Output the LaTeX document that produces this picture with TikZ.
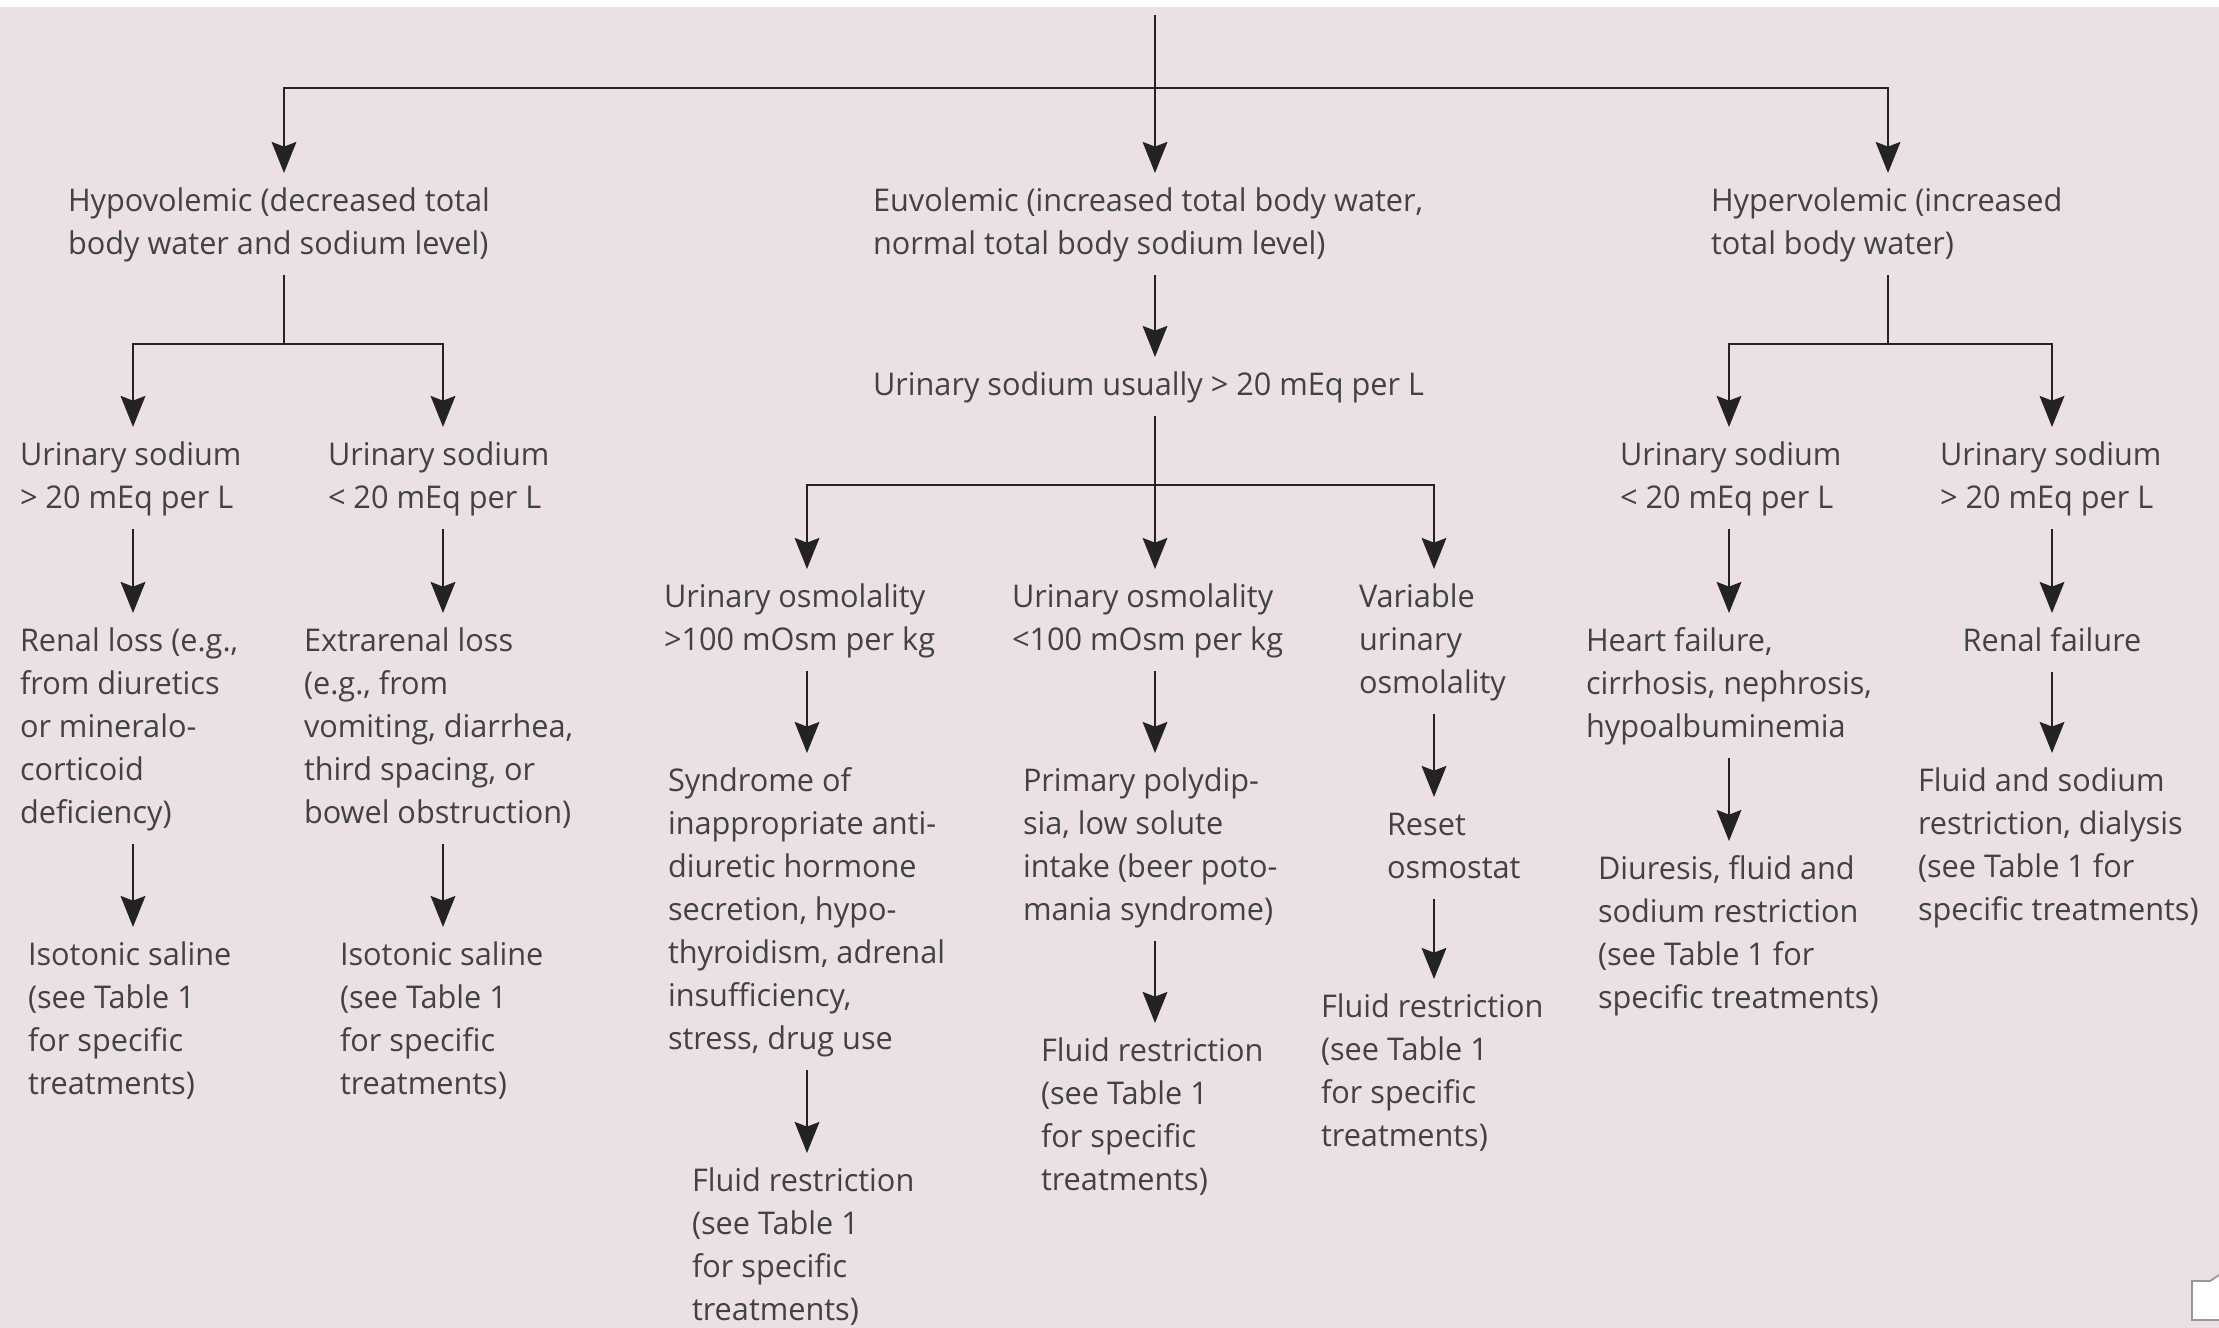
\documentclass[tikz,border=0pt]{standalone}
\usepackage{fontspec}
\setmainfont{Open Sans}[FakeStretch=0.98]
\usetikzlibrary{arrows.meta}
\definecolor{bgpink}{RGB}{235,224,228}
\definecolor{txtgray}{RGB}{66,66,66}
\definecolor{lngray}{RGB}{35,35,35}
\newcommand{\topstr}{\rule{0pt}{0.385cm}}
\newcommand{\botstr}{\rule[-0.205cm]{0pt}{0.205cm}}
\begin{document}
\begin{tikzpicture}[x=0.01cm,y=-0.01cm,
  lbl/.style={anchor=north west, align=left, inner sep=0pt, outer sep=0pt, text=txtgray,
              font=\fontsize{8.9pt}{12.235pt}\selectfont},
  con/.style={draw=lngray, line width=0.75pt},
  arr/.style={con, -{Stealth[length=8.8pt,width=7pt,inset=1.3pt]}}]
\fill[bgpink] (0,0) rectangle (2219,1328);
\fill[white] (0,0) rectangle (2219,7);
\useasboundingbox (0,0) rectangle (2219,1328);

% column / junction coordinates
\coordinate (top) at (1155,15);
\coordinate (bar) at (1155,88);
\coordinate (cH) at (284,0);
\coordinate (cR) at (1888,0);
\coordinate (c1) at (133,0);
\coordinate (c2) at (443,0);
\coordinate (c3) at (807,0);
\coordinate (c4) at (1434,0);
\coordinate (c5) at (1729,0);
\coordinate (c6) at (2052,0);
\coordinate (j1) at (284,344);
\coordinate (j2) at (1155,485);
\coordinate (j3) at (1888,344);

% level 1
\node[lbl] (hypo) at (68,173) {\topstr Hypovolemic (decreased total\\body water and sodium level)\botstr};
\node[lbl] (euvo) at (873,173) {\topstr Euvolemic (increased total body water,\\normal total body sodium level)\botstr};
\node[lbl] (hyper) at (1711,173) {\topstr Hypervolemic (increased\\total body water)\botstr};

% euvolemic
\node[lbl] (usual) at (873,357) {\topstr Urinary sodium usually > 20 mEq per L\botstr};
\node[lbl] (osmA) at (664,569) {\topstr Urinary osmolality\\>100 mOsm per kg\botstr};
\node[lbl] (osmB) at (1012,569) {\topstr Urinary osmolality\\<100 mOsm per kg\botstr};
\node[lbl] (var) at (1359,569) {\topstr Variable\\urinary\\osmolality\botstr};
\node[lbl] (syn) at (668,753) {\topstr Syndrome of\\inappropriate anti-\\diuretic hormone\\secretion, hypo-\\thyroidism, adrenal\\insufficiency,\\stress, drug use\botstr};
\node[lbl] (prim) at (1023,753) {\topstr Primary polydip-\\sia, low solute\\intake (beer poto-\\mania syndrome)\botstr};
\node[lbl] (reset) at (1387,797) {\topstr Reset\\osmostat\botstr};
\node[lbl] (flA) at (692,1153) {\topstr Fluid restriction\\(see Table 1\\for specific\\treatments)\botstr};
\node[lbl] (flB) at (1041,1023) {\topstr Fluid restriction\\(see Table 1\\for specific\\treatments)\botstr};
\node[lbl] (flC) at (1321,979) {\topstr Fluid restriction\\(see Table 1\\for specific\\treatments)\botstr};

% hypovolemic
\node[lbl] (uA) at (20,427) {\topstr Urinary sodium\\> 20 mEq per L\botstr};
\node[lbl] (uB) at (328,427) {\topstr Urinary sodium\\< 20 mEq per L\botstr};
\node[lbl] (renal) at (20,613) {\topstr Renal loss (e.g.,\\from diuretics\\or mineralo-\\corticoid\\deficiency)\botstr};
\node[lbl] (extra) at (304,613) {\topstr Extrarenal loss\\(e.g., from\\vomiting, diarrhea,\\third spacing, or\\bowel obstruction)\botstr};
\node[lbl] (iso1) at (28,927) {\topstr Isotonic saline\\(see Table 1\\for specific\\treatments)\botstr};
\node[lbl] (iso2) at (340,927) {\topstr Isotonic saline\\(see Table 1\\for specific\\treatments)\botstr};

% hypervolemic
\node[lbl] (uC) at (1620,427) {\topstr Urinary sodium\\< 20 mEq per L\botstr};
\node[lbl] (uD) at (1940,427) {\topstr Urinary sodium\\> 20 mEq per L\botstr};
\node[lbl] (heart) at (1586,613) {\topstr Heart failure,\\cirrhosis, nephrosis,\\hypoalbuminemia\botstr};
\node[lbl, anchor=north] (rfail) at (2052,613) {\topstr Renal failure\botstr};
\node[lbl] (diur) at (1598,841) {\topstr Diuresis, fluid and\\sodium restriction\\(see Table 1 for\\specific treatments)\botstr};
\node[lbl] (flNa) at (1918,753) {\topstr Fluid and sodium\\restriction, dialysis\\(see Table 1 for\\specific treatments)\botstr};

% connectors: top level
\draw[arr] (top) -- (euvo.north -| top);
\draw[arr] (bar) -| (hypo.north -| cH);
\draw[arr] (bar) -| (hyper.north -| cR);

% hypovolemic branch
\draw[con] (hypo.south -| cH) -- (j1);
\draw[arr] (j1) -| (uA.north -| c1);
\draw[arr] (j1) -| (uB.north -| c2);
\draw[arr] (uA.south -| c1) -- (renal.north -| c1);
\draw[arr] (renal.south -| c1) -- (iso1.north -| c1);
\draw[arr] (uB.south -| c2) -- (extra.north -| c2);
\draw[arr] (extra.south -| c2) -- (iso2.north -| c2);

% euvolemic branch
\draw[arr] (euvo.south -| top) -- (usual.north -| top);
\draw[con] (usual.south -| top) -- (j2);
\draw[arr] (j2) -| (osmA.north -| c3);
\draw[arr] (j2) -- (osmB.north -| top);
\draw[arr] (j2) -| (var.north -| c4);
\draw[arr] (osmA.south -| c3) -- (syn.north -| c3);
\draw[arr] (syn.south -| c3) -- (flA.north -| c3);
\draw[arr] (osmB.south -| top) -- (prim.north -| top);
\draw[arr] (prim.south -| top) -- (flB.north -| top);
\draw[arr] (var.south -| c4) -- (reset.north -| c4);
\draw[arr] (reset.south -| c4) -- (flC.north -| c4);

% hypervolemic branch
\draw[con] (hyper.south -| cR) -- (j3);
\draw[arr] (j3) -| (uC.north -| c5);
\draw[arr] (j3) -| (uD.north -| c6);
\draw[arr] (uC.south -| c5) -- (heart.north -| c5);
\draw[arr] (heart.south -| c5) -- (diur.north -| c5);
\draw[arr] (uD.south -| c6) -- (rfail.north -| c6);
\draw[arr] (rfail.south -| c6) -- (flNa.north -| c6);

% small corner widget
\filldraw[fill=white, draw=gray!80, line width=0.5pt] (2219,1275) -- (2210,1281) -- (2192,1281) -- (2192,1320) -- (2219,1320);
\end{tikzpicture}
\end{document}
